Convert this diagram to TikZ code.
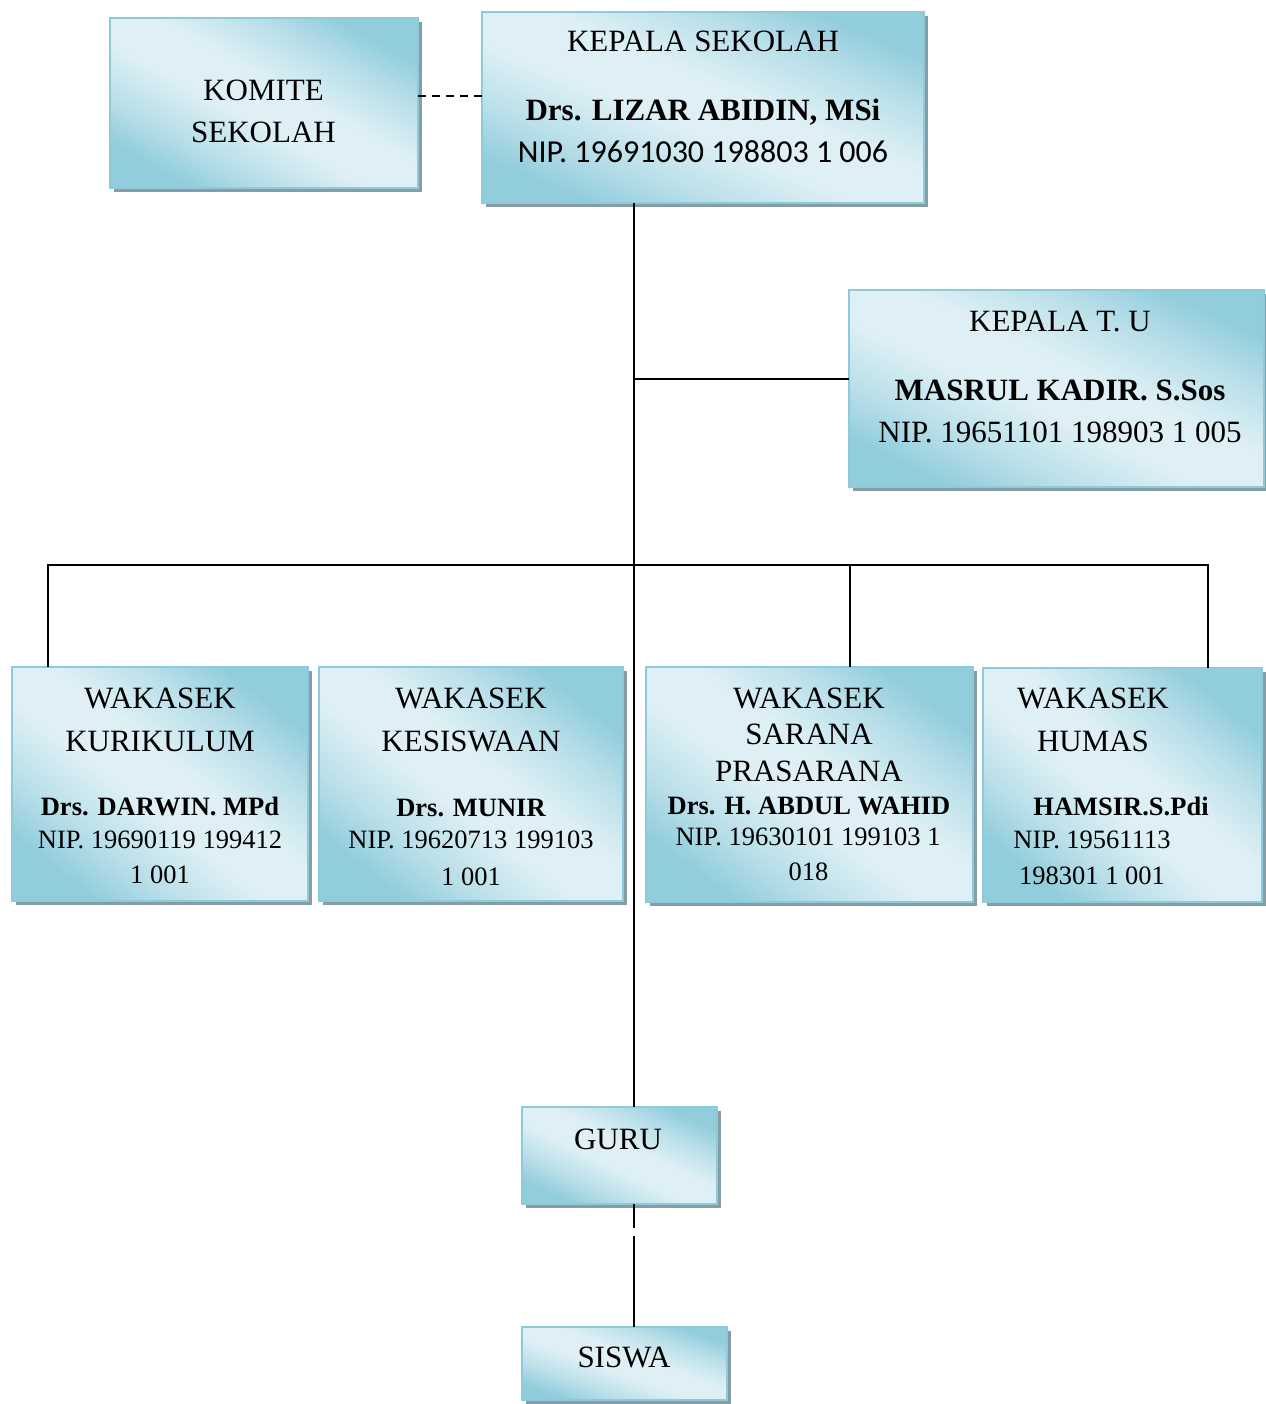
\documentclass[tikz,border=0pt]{standalone}
\usepackage{fontspec}
\setmainfont{Liberation Serif}
\newfontfamily\calfont{Carlito}
\usetikzlibrary{shadows,calc}
\definecolor{boxdark}{RGB}{146,205,220}
\definecolor{boxmid}{RGB}{185,223,233}
\definecolor{boxlight}{RGB}{222,240,245}
\definecolor{boxedge}{RGB}{141,202,219}
\definecolor{shadowgrey}{RGB}{135,157,166}
\pgfdeclareverticalshading{orgshade}{100bp}{color(0bp)=(boxdark); color(25bp)=(boxdark); color(34bp)=(boxmid); color(45bp)=(boxlight); color(55bp)=(boxlight); color(66bp)=(boxmid); color(75bp)=(boxdark); color(100bp)=(boxdark)}
\tikzset{
  orgbox/.style={draw=boxedge, line width=1.5pt,
    shade, shading=orgshade, shading angle=#1,
    drop shadow={shadow xshift=4pt, shadow yshift=-4pt, fill=shadowgrey, opacity=1},
    inner sep=0pt, outer sep=0pt, anchor=north west},
  orgbox/.default=-30,
  hdtext/.style={anchor=base, inner sep=0pt, font=\fontsize{31}{36}\selectfont},
  bdtext/.style={anchor=base, inner sep=0pt, font=\fontsize{31}{36}\selectfont\bfseries},
  bdsmall/.style={anchor=base, inner sep=0pt, font=\fontsize{26.5}{30}\selectfont\bfseries},
  niptext/.style={anchor=base, inner sep=0pt, font=\fontsize{26.5}{30}\selectfont},
  nipbig/.style={anchor=base, inner sep=0pt, font=\fontsize{31}{36}\selectfont},
  nipcal/.style={anchor=base, inner sep=0pt, font=\fontsize{32}{36}\selectfont\calfont},
  link/.style={line width=1.6pt, draw=black},
}
\begin{document}
\begin{tikzpicture}[x=1pt, y=-1pt]
\useasboundingbox (0,0) rectangle (1265,1404);

% boxes
\node[orgbox=-29, minimum width=308pt, minimum height=170pt] (kom) at (110,18) {};
\node[orgbox=-23, minimum width=442pt, minimum height=191pt] (ks) at (482,12) {};
\node[orgbox=-25, minimum width=415pt, minimum height=197pt] (tu) at (849,290) {};
\node[orgbox=-38, minimum width=296pt, minimum height=234pt] (kur) at (12,667) {};
\node[orgbox=-38, minimum width=304pt, minimum height=234pt] (kes) at (319,667) {};
\node[orgbox=-36, minimum width=327pt, minimum height=235pt] (sar) at (646,667) {};
\node[orgbox=-40, minimum width=279pt, minimum height=234pt] (hum) at (983,668) {};
\node[orgbox=-26, minimum width=195pt, minimum height=97pt] (guru) at (522,1107) {};
\node[orgbox=-20, minimum width=205pt, minimum height=73pt] (siswa) at (522,1327) {};

% texts
\node[hdtext] (kom-1) at (263.5,100.7) {KOMITE};
\node[hdtext] (kom-2) at (263.5,142.7) {SEKOLAH};

\node[hdtext] (ks-1) at (703,52) {KEPALA SEKOLAH};
\node[bdtext] (ks-2) at (703,121) {Drs. LIZAR ABIDIN, MSi};
\node[nipcal] (ks-3) at (703,163) {NIP. 19691030 198803 1 006};

\node[hdtext] (tu-1) at (1060,331) {KEPALA T. U};
\node[bdtext] (tu-2) at (1060,400) {MASRUL KADIR. S.Sos};
\node[nipbig] (tu-3) at (1060,442) {NIP. 19651101 198903 1 005};

\node[hdtext] (kur-1) at (160,708) {WAKASEK};
\node[hdtext] (kur-2) at (160,751) {KURIKULUM};
\node[bdsmall] (kur-3) at (160,815) {Drs. DARWIN. MPd};
\node[niptext] (kur-4) at (160,848) {NIP. 19690119 199412};
\node[niptext] (kur-5) at (160,883) {1 001};

\node[hdtext] (kes-1) at (471,708) {WAKASEK};
\node[hdtext] (kes-2) at (471,751) {KESISWAAN};
\node[bdsmall] (kes-3) at (471,816) {Drs. MUNIR};
\node[niptext] (kes-4) at (471,848) {NIP. 19620713 199103};
\node[niptext] (kes-5) at (471,885) {1 001};

\node[hdtext] (sar-1) at (809,708) {WAKASEK};
\node[hdtext] (sar-2) at (809,744) {SARANA};
\node[hdtext] (sar-3) at (809,781) {PRASARANA};
\node[bdsmall] (sar-4) at (809,814) {Drs. H. ABDUL WAHID};
\node[niptext] (sar-5) at (808,845) {NIP. 19630101 199103 1};
\node[niptext] (sar-6) at (808.5,880) {018};

\node[hdtext] (hum-1) at (1093,708) {WAKASEK};
\node[hdtext] (hum-2) at (1093,751) {HUMAS};
\node[bdsmall] (hum-3) at (1121,815) {HAMSIR.S.Pdi};
\node[niptext] (hum-4) at (1092,848) {NIP. 19561113};
\node[niptext] (hum-5) at (1092,884) {198301 1 001};

\node[hdtext] (guru-1) at (618,1149) {GURU};
\node[hdtext] (siswa-1) at (624,1367) {SISWA};

% connectors
\coordinate (spine) at (634,0);
\coordinate (bus) at (0,565);
\coordinate (kurdrop) at (48,0);
\coordinate (sardrop) at (850,0);
\coordinate (humdrop) at (1208,0);
\coordinate (komjoin) at (0,96);
\coordinate (tujoin) at ($(tu.north west)!0.452!(tu.south west)$);

\draw[link] (ks.south -| spine) -- (guru.north -| spine);
\draw[link] (tujoin -| spine) -- (tujoin);
\draw[link] (kurdrop |- kur.north) -- (kurdrop |- bus) -- (humdrop |- bus) -- (humdrop |- hum.north);
\draw[link] (sardrop |- bus) -- (sardrop |- sar.north);
\draw[link, dash pattern=on 8pt off 6pt] (kom.east |- komjoin) -- (ks.west |- komjoin);
\draw[link, dash pattern=on 24pt off 8pt on 200pt] (guru.south -| spine) -- (siswa.north -| spine);
\end{tikzpicture}
\end{document}
